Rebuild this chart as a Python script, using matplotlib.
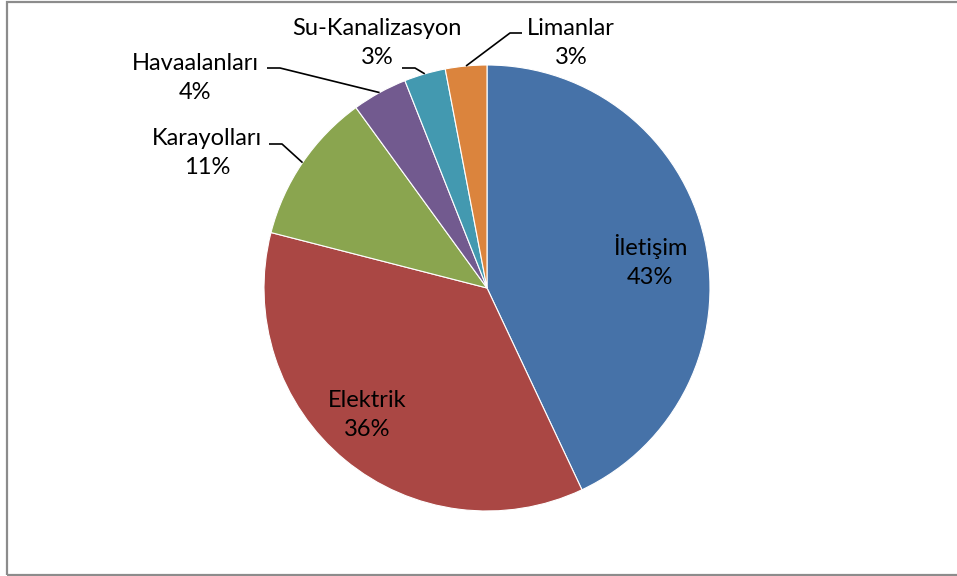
import numpy as np
import matplotlib.pyplot as plt
from matplotlib.patches import Rectangle

# data
labels = ['İletişim', 'Elektrik', 'Karayolları', 'Havaalanları', 'Su-Kanalizasyon', 'Limanlar']
values = [43, 36, 11, 4, 3, 3]
colors = ['#4672A8', '#AA4744', '#8AA54F', '#725A8F', '#4399B0', '#DB843D']

W, H = 957, 576
plt.rcParams['font.family'] = ['Lato', 'DejaVu Sans']

fig = plt.figure(figsize=(W / 100, H / 100), dpi=100)
ax = fig.add_axes([0, 0, 1, 1])

cx, cy, r = 487, H - 288, 223
wedges, _ = ax.pie(values, colors=colors, startangle=90, counterclock=False,
                   center=(cx, cy), radius=r, frame=True,
                   wedgeprops=dict(edgecolor='white', linewidth=0.8))
ax.set_xlim(0, W)
ax.set_ylim(0, H)
ax.set_aspect('equal')
ax.axis('off')

# label text positions (px, top-left origin)
lab_pos = [(650, 261), (367, 415), (207, 153), (195, 78), (377, 43), (571, 43)]
# leader lines: (text end x, elbow x, y) in px
leaders = {2: (269, 282, 144), 3: (267, 280, 68), 4: (402, 415, 68), 5: (522, 510, 33)}

tot = sum(values)
for i, w in enumerate(wedges):
    pct = '%d%%' % round(100 * values[i] / tot)
    x, y = lab_pos[i]
    ax.text(x, H - y, labels[i] + '\n' + pct, ha='center', va='center',
            fontsize=17, linespacing=1.52, color='black')
    if i in leaders:
        ang = np.deg2rad((w.theta1 + w.theta2) / 2)
        px = cx + r * np.cos(ang)
        py = cy + r * np.sin(ang)
        x0, x1, yy = leaders[i]
        ax.plot([x0, x1, px], [H - yy, H - yy, py], color='black', lw=1.2,
                solid_capstyle='butt')

# chart frame
fig.patches.append(Rectangle((6.5 / W, 1.0 / H), 2, (H - 2.5) / H,
                             transform=fig.transFigure, fill=False,
                             edgecolor='#8C8C8C', lw=1.6))

fig.savefig('out.png', dpi=100)
